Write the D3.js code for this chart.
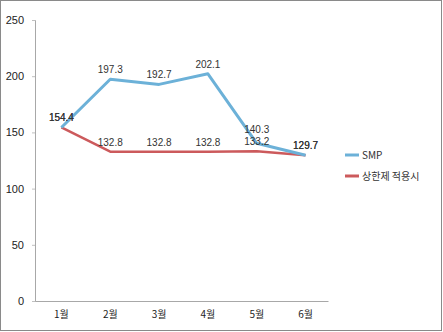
<!DOCTYPE html>
<html>
<head>
<meta charset="utf-8">
<script src="https://cdn.jsdelivr.net/npm/d3@7"></script>
<style>
  html, body { margin: 0; padding: 0; background: #fff; }
  svg { display: block; }
  text { font-family: "Noto Sans CJK KR", "Noto Sans", sans-serif; }
  text.num { font-family: "Liberation Sans", Arial, sans-serif; }
</style>
</head>
<body>
<svg id="chart" width="443" height="332"></svg>
<script>
const months = ["1월", "2월", "3월", "4월", "5월", "6월"];
const smp = [154.4, 197.3, 192.7, 202.1, 140.3, 129.7];
const capped = [154.4, 132.8, 132.8, 132.8, 133.2, 129.7];
const yTicks = [0, 50, 100, 150, 200, 250];
const seriesNames = ["SMP", "상한제 적용시"];
const seriesColors = ["#6cb1d8", "#cc5a5c"];

const svg = d3.select("#chart");
const W = 443, H = 332;
const m = { left: 35, right: 115, top: 20, bottom: 31 };

// outer frame
svg.append("rect")
  .attr("x", 0.5).attr("y", 0.5)
  .attr("width", W - 2).attr("height", H - 2)
  .attr("fill", "#fff").attr("stroke", "#8a8a8a").attr("stroke-width", 1);

const x = d3.scaleBand().domain(months).range([m.left, W - m.right]);
const y = d3.scaleLinear().domain([0, 250]).range([H - m.bottom, m.top]);
const cx = d => x(d) + x.bandwidth() / 2 + 2;

// y axis
const yAxis = svg.append("g")
  .attr("transform", `translate(${m.left},0)`)
  .call(d3.axisLeft(y).tickValues(yTicks).tickSize(3).tickPadding(8));
yAxis.select(".domain").attr("stroke", "#a8a8a8");
yAxis.selectAll(".tick line").attr("stroke", "#c0c0c0");
yAxis.selectAll("text").attr("class", "num").attr("font-size", 11).attr("fill", "#222");

// x axis
const xAxis = svg.append("g")
  .attr("transform", `translate(0,${H - m.bottom})`)
  .call(d3.axisBottom(x).tickSize(0).tickPadding(10));
xAxis.select(".domain").attr("stroke", "#a8a8a8");
xAxis.selectAll(".tick").attr("transform", d => `translate(${cx(d)},0)`);
xAxis.selectAll("text").attr("font-size", 10).attr("fill", "#222");

const line = d3.line().x((d, i) => cx(months[i])).y(d => y(d));

// capped series first, SMP drawn on top
[[capped, 1, 2.5], [smp, 0, 3]].forEach(([vals, k, w]) => {
  svg.append("path")
    .datum(vals)
    .attr("d", line)
    .attr("fill", "none")
    .attr("stroke", seriesColors[k])
    .attr("stroke-width", w)
    .attr("stroke-linejoin", "round");
});

// value labels; when the two series sit close but apart, lift the upper label clear of the lower one
const LINE_GAP = 12;
const labelY = (vals, other, isUpper) => vals.map((d, i) => {
  const base = y(d) - 6;
  if (!isUpper) return base;
  const gap = y(other[i]) - y(d);
  return gap > 0.5 && gap < LINE_GAP ? y(other[i]) - 6 - LINE_GAP : base;
});
[[smp, capped, true], [capped, smp, false]].forEach(([vals, other, up]) => {
  const ys = labelY(vals, other, up);
  svg.append("g").selectAll("text")
    .data(vals)
    .join("text")
    .attr("class", "num")
    .attr("x", (d, i) => cx(months[i]))
    .attr("y", (d, i) => ys[i])
    .attr("text-anchor", "middle")
    .attr("font-size", 10)
    .attr("fill", "#333")
    .text(d => d.toFixed(1));
});

// legend
const legend = svg.append("g").attr("transform", "translate(345,155)");
seriesNames.forEach((name, k) => {
  const g = legend.append("g").attr("transform", `translate(0,${k * 21})`);
  g.append("line")
    .attr("x1", 0).attr("x2", 14)
    .attr("stroke", seriesColors[k]).attr("stroke-width", 3);
  g.append("text")
    .attr("x", 17).attr("y", 4)
    .attr("font-size", 10).attr("fill", "#333")
    .text(name);
});
</script>
</body>
</html>
